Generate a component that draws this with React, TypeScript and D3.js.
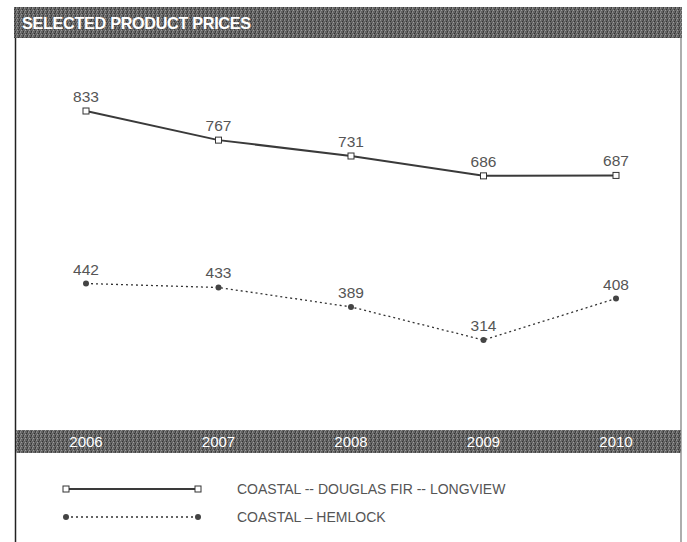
import React from "react";
import * as d3 from "d3";

const years = ["2006", "2007", "2008", "2009", "2010"];
const douglasFir = [833, 767, 731, 686, 687];
const hemlock = [442, 433, 389, 314, 408];
const seriesNames = ["COASTAL -- DOUGLAS FIR -- LONGVIEW", "COASTAL – HEMLOCK"];
const title = "SELECTED PRODUCT PRICES";

const W = 687;
const H = 542;

export default function App() {
  const x = d3.scalePoint<string>().domain(years).range([86, 616]);
  const y = d3.scaleLinear().domain([314, 833]).range([340, 111]);
  const line = d3
    .line<number>()
    .x((_, i) => x(years[i]) as number)
    .y((d) => y(d));
  const font = "'Liberation Sans', Arial, sans-serif";
  const lblColor = "#555";

  return (
    <svg
      width={W}
      height={H}
      style={{ position: "absolute", left: 0, top: 0, background: "#fff" }}
    >
      <defs>
        <pattern id="tex" width="4" height="4" patternUnits="userSpaceOnUse">
          <rect width="4" height="4" fill="#646464" />
          <rect x="0" y="0" width="1" height="1" fill="#8e8e8e" />
          <rect x="2" y="1" width="1" height="1" fill="#333" />
          <rect x="1" y="2" width="1" height="1" fill="#9c9c9c" />
          <rect x="3" y="3" width="1" height="1" fill="#383838" />
          <rect x="3" y="0" width="1" height="1" fill="#4a4a4a" />
          <rect x="0" y="3" width="1" height="1" fill="#7e7e7e" />
        </pattern>
      </defs>
      {/* header */}
      <rect x={14} y={7} width={668} height={31} fill="url(#tex)" />
      <text
        x={22}
        y={29}
        fill="#fff"
        fontFamily={font}
        fontSize={16.2}
        fontWeight="bold"
        letterSpacing={-0.3}
      >
        {title}
      </text>
      {/* borders */}
      <line x1={15.5} x2={15.5} y1={38} y2={H} stroke="#222" strokeWidth={1.5} />
      <line x1={681} x2={681} y1={38} y2={H} stroke="#777" strokeWidth={1.2} />
      {/* year band */}
      <rect x={16} y={430} width={665} height={23} fill="url(#tex)" />
      {years.map((yr) => (
        <text
          key={yr}
          x={x(yr)}
          y={447}
          textAnchor="middle"
          fill="#fff"
          fontFamily={font}
          fontSize={15}
        >
          {yr}
        </text>
      ))}
      {/* Douglas fir */}
      <path d={line(douglasFir) || ""} fill="none" stroke="#3a3a3a" strokeWidth={2} />
      {douglasFir.map((v, i) => (
        <g key={"d" + i}>
          <rect
            x={(x(years[i]) as number) - 3}
            y={y(v) - 3}
            width={6}
            height={6}
            fill="#fff"
            stroke="#333"
            strokeWidth={1}
          />
          <text
            x={x(years[i])}
            y={y(v) - 9}
            textAnchor="middle"
            fill={lblColor}
            fontFamily={font}
            fontSize={15.5}
          >
            {v}
          </text>
        </g>
      ))}
      {/* Hemlock */}
      <path
        d={line(hemlock) || ""}
        fill="none"
        stroke="#333"
        strokeWidth={1.3}
        strokeDasharray="2,3"
      />
      {hemlock.map((v, i) => (
        <g key={"h" + i}>
          <circle cx={x(years[i])} cy={y(v)} r={3} fill="#444" />
          <text
            x={x(years[i])}
            y={y(v) - 9}
            textAnchor="middle"
            fill={lblColor}
            fontFamily={font}
            fontSize={15.5}
          >
            {v}
          </text>
        </g>
      ))}
      {/* legend */}
      <line x1={66} x2={198} y1={489} y2={489} stroke="#3a3a3a" strokeWidth={2} />
      <rect x={63} y={486} width={6} height={6} fill="#fff" stroke="#333" />
      <rect x={195} y={486} width={6} height={6} fill="#fff" stroke="#333" />
      <text x={237} y={494} fill={lblColor} fontFamily={font} fontSize={14}>
        {seriesNames[0]}
      </text>
      <line
        x1={66}
        x2={198}
        y1={517}
        y2={517}
        stroke="#333"
        strokeWidth={1.3}
        strokeDasharray="2,3"
      />
      <circle cx={66} cy={517} r={3} fill="#444" />
      <circle cx={198} cy={517} r={3} fill="#444" />
      <text x={237} y={522} fill={lblColor} fontFamily={font} fontSize={14}>
        {seriesNames[1]}
      </text>
    </svg>
  );
}
